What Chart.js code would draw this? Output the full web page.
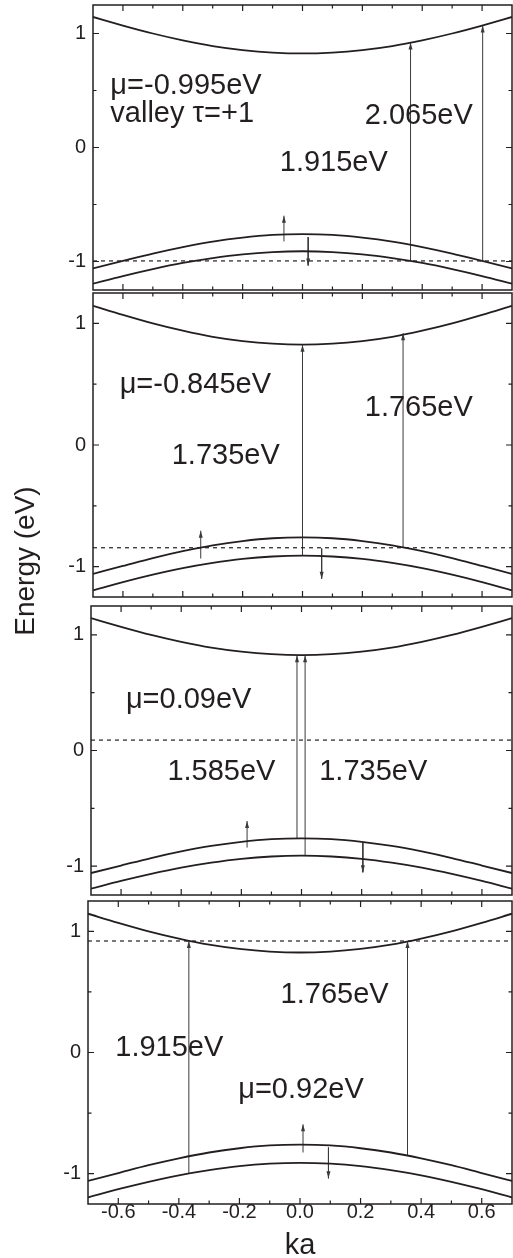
<!DOCTYPE html>
<html>
<head>
<meta charset="utf-8">
<script src="https://cdn.jsdelivr.net/npm/chart.js@4"></script>
<style>
html, body { margin: 0; padding: 0; background: #fff; }
body { width: 513px; height: 1258px; position: relative; overflow: hidden; }
canvas { position: absolute; left: 0; }
#ytitle {
	position: absolute; left: -75px; top: 547px; width: 200px; height: 28px;
	line-height: 28px; text-align: center; white-space: nowrap;
	font-family: "Liberation Sans", Arial, sans-serif; font-size: 28px; color: #231f20;
	transform: rotate(-90deg);
}
</style>
</head>
<body>
<canvas id="p1"></canvas>
<canvas id="p2"></canvas>
<canvas id="p3"></canvas>
<canvas id="p4"></canvas>
<div id="ytitle">Energy (eV)</div>
<script>
// band energies (eV) vs ka
var ka = [-0.7, -0.6, -0.5, -0.4, -0.3, -0.2, -0.1, 0, 0.1, 0.2, 0.3, 0.4, 0.5, 0.6, 0.7];
var conduction = [1.145, 1.07, 1.0, 0.94, 0.89, 0.855, 0.833, 0.825, 0.833, 0.855, 0.89, 0.94, 1.0, 1.07, 1.145];
var valenceUp = [-1.06, -0.995, -0.93, -0.873, -0.825, -0.79, -0.767, -0.76, -0.767, -0.79, -0.825, -0.873, -0.93, -0.995, -1.06];
var valenceDown = [-1.195, -1.128, -1.067, -1.013, -0.97, -0.937, -0.917, -0.91, -0.917, -0.937, -0.97, -1.013, -1.067, -1.128, -1.195];

// chemical potential of each panel
var mu = [-0.995, -0.845, 0.09, 0.92];
var muLabels = ['μ=-0.995eV', 'μ=-0.845eV', 'μ=0.09eV', 'μ=0.92eV'];
var valleyLabel = 'valley τ=+1';

// transitions [ka, from, to]
var transP1 = [[0.361, -0.995, 0.92], [0.602, -0.995, 1.07]];
var transP2 = [[0.0, -0.91, 0.825], [0.336, -0.845, 0.92]];
var transP3 = [[-0.015, -0.76, 0.825], [0.012, -0.91, 0.825]];
var transP4 = [[-0.367, -0.995, 0.92], [0.355, -0.845, 0.92]];

// spin up / spin down markers [ka, from, to]
var spinP1 = [[-0.062, -0.824, -0.598], [0.019, -0.786, -1.035]];
var spinP2 = [[-0.34, -0.934, -0.705], [0.064, -0.851, -1.099]];
var spinP3 = [[-0.181, -0.84, -0.61], [0.204, -0.797, -1.054]];
var spinP4 = [[0.01, -0.825, -0.593], [0.094, -0.784, -1.038]];

var gapP1 = ['2.065eV', '1.915eV'];
var gapP2 = ['1.765eV', '1.735eV'];
var gapP3 = ['1.585eV', '1.735eV'];
var gapP4 = ['1.765eV', '1.915eV'];

var xMajor = [-0.6, -0.4, -0.2, 0, 0.2, 0.4, 0.6];
var xMinor = [-0.5, -0.3, -0.1, 0.1, 0.3, 0.5];
var yMajor = [-1, 0, 1];
var yMinor = [-0.5, 0.5];

var ink = '#231f20';
var font = '"Liberation Sans", Arial, sans-serif';

// frame with inward ticks on all four sides
var frameTicks = {
	id: 'frameTicks',
	afterDatasetsDraw: function(chart) {
		var ctx = chart.ctx, a = chart.chartArea, x = chart.scales.x, y = chart.scales.y;
		ctx.save();
		ctx.strokeStyle = ink;
		ctx.lineWidth = 1.5;
		ctx.strokeRect(a.left, a.top, a.right - a.left, a.bottom - a.top);
		ctx.lineWidth = 1.2;
		ctx.beginPath();
		function xt(v, len) {
			var px = x.getPixelForValue(v);
			ctx.moveTo(px, a.bottom); ctx.lineTo(px, a.bottom - len);
			ctx.moveTo(px, a.top); ctx.lineTo(px, a.top + len);
		}
		function yt(v, len) {
			var py = y.getPixelForValue(v);
			ctx.moveTo(a.left, py); ctx.lineTo(a.left + len, py);
			ctx.moveTo(a.right, py); ctx.lineTo(a.right - len, py);
		}
		xMajor.forEach(function(v) { xt(v, 6); });
		xMinor.forEach(function(v) { xt(v, 3.5); });
		yMajor.forEach(function(v) { yt(v, 6); });
		yMinor.forEach(function(v) { yt(v, 3.5); });
		ctx.stroke();
		ctx.restore();
	}
};

var arrowHeads = {
	id: 'arrowHeads',
	afterDatasetsDraw: function(chart) {
		var ctx = chart.ctx;
		ctx.save();
		chart.data.datasets.forEach(function(ds, i) {
			if (!ds.arrow) return;
			var pts = chart.getDatasetMeta(i).data;
			var p0 = pts[0], p1 = pts[1];
			var dir = p1.y > p0.y ? 1 : -1;
			ctx.fillStyle = ds.borderColor;
			ctx.beginPath();
			ctx.moveTo(p1.x, p1.y);
			ctx.lineTo(p1.x - 2, p1.y - dir * 7);
			ctx.lineTo(p1.x + 2, p1.y - dir * 7);
			ctx.closePath();
			ctx.fill();
		});
		ctx.restore();
	}
};

var bandText = {
	id: 'bandText',
	afterDraw: function(chart, args, opts) {
		var ctx = chart.ctx, x = chart.scales.x, y = chart.scales.y;
		ctx.save();
		ctx.font = '29px ' + font;
		ctx.fillStyle = ink;
		ctx.textBaseline = 'alphabetic';
		(opts.items || []).forEach(function(t) {
			ctx.fillText(t.text, x.getPixelForValue(t.k), y.getPixelForValue(t.e));
		});
		ctx.restore();
	}
};

function band(values) {
	return ka.map(function(k, i) { return {x: k, y: values[i]}; });
}

function noPad(s) {
	s.paddingTop = 0; s.paddingBottom = 0; s.paddingLeft = 0; s.paddingRight = 0;
}

function makePanel(id, geo, muValue, trans, spins, texts, showX) {
	var canvas = document.getElementById(id);
	var top = geo.top - 5;
	var height = showX ? 1262 - top : geo.bottom - geo.top + 10;
	canvas.width = 513;
	canvas.height = height;
	canvas.style.top = top + 'px';

	var lineDs = function(values) {
		return {data: band(values), borderColor: ink, borderWidth: 1.8, pointRadius: 0,
			cubicInterpolationMode: 'monotone'};
	};
	var datasets = [lineDs(conduction), lineDs(valenceUp), lineDs(valenceDown)];
	datasets.push({data: [{x: -0.7, y: muValue}, {x: 0.7, y: muValue}], borderColor: ink,
		borderWidth: 1.2, borderDash: [4, 4], pointRadius: 0});
	trans.concat(spins).forEach(function(t) {
		datasets.push({data: [{x: t[0], y: t[1]}, {x: t[0], y: t[2]}], borderColor: '#3a3a3a',
			borderWidth: 1, pointRadius: 0, arrow: true});
	});

	new Chart(canvas, {
		type: 'line',
		data: {datasets: datasets},
		options: {
			responsive: false,
			animation: false,
			layout: {padding: {top: 5, right: 1, bottom: showX ? 0 : 5, left: 0}},
			plugins: {
				legend: {display: false},
				tooltip: {enabled: false},
				bandText: {items: texts}
			},
			scales: {
				x: {
					type: 'linear', min: -0.7, max: 0.7,
					grid: {display: false, drawTicks: false},
					border: {display: false},
					afterBuildTicks: function(s) { s.ticks = xMajor.map(function(v) { return {value: v}; }); },
					afterFit: function(s) { s.height = showX ? 1262 - geo.bottom : 0; noPad(s); },
					ticks: {
						display: showX, autoSkip: false, maxRotation: 0, padding: -2, color: ink,
						font: {family: font, size: 20, lineHeight: 1},
						callback: function(v) { return Number(v).toFixed(1); }
					},
					title: {
						display: showX, text: 'ka', color: ink,
						font: {family: font, size: 29, lineHeight: 1},
						padding: {top: 0, bottom: 1.5}
					}
				},
				y: {
					type: 'linear', min: -1.25, max: 1.25,
					grid: {display: false, drawTicks: false},
					border: {display: false},
					afterBuildTicks: function(s) { s.ticks = yMajor.map(function(v) { return {value: v}; }); },
					afterFit: function(s) { s.width = geo.left; noPad(s); },
					ticks: {
						padding: 7, color: ink,
						font: {family: font, size: 20, lineHeight: 1},
						callback: function(v) { return String(v); }
					}
				}
			}
		},
		plugins: [frameTicks, arrowHeads, bandText]
	});
}

makePanel('p1', {top: 5, bottom: 290, left: 93}, mu[0], transP1, spinP1, [
	{text: muLabels[0], k: -0.642, e: 0.466},
	{text: valleyLabel, k: -0.642, e: 0.223},
	{text: gapP1[0], k: 0.208, e: 0.202},
	{text: gapP1[1], k: -0.076, e: -0.208}
], false);

makePanel('p2', {top: 293, bottom: 597, left: 93}, mu[1], transP2, spinP2, [
	{text: muLabels[1], k: -0.611, e: 0.428},
	{text: gapP2[0], k: 0.208, e: 0.241},
	{text: gapP2[1], k: -0.437, e: -0.154}
], false);

makePanel('p3', {top: 606, bottom: 895, left: 91}, mu[2], transP3, spinP3, [
	{text: muLabels[2], k: -0.584, e: 0.364},
	{text: gapP3[0], k: -0.446, e: -0.252},
	{text: gapP3[1], k: 0.059, e: -0.252}
], false);

makePanel('p4', {top: 901, bottom: 1204, left: 88}, mu[3], transP4, spinP4, [
	{text: gapP4[0], k: -0.064, e: 0.406},
	{text: gapP4[1], k: -0.61, e: -0.033},
	{text: muLabels[3], k: -0.204, e: -0.374}
], true);
</script>
</body>
</html>
